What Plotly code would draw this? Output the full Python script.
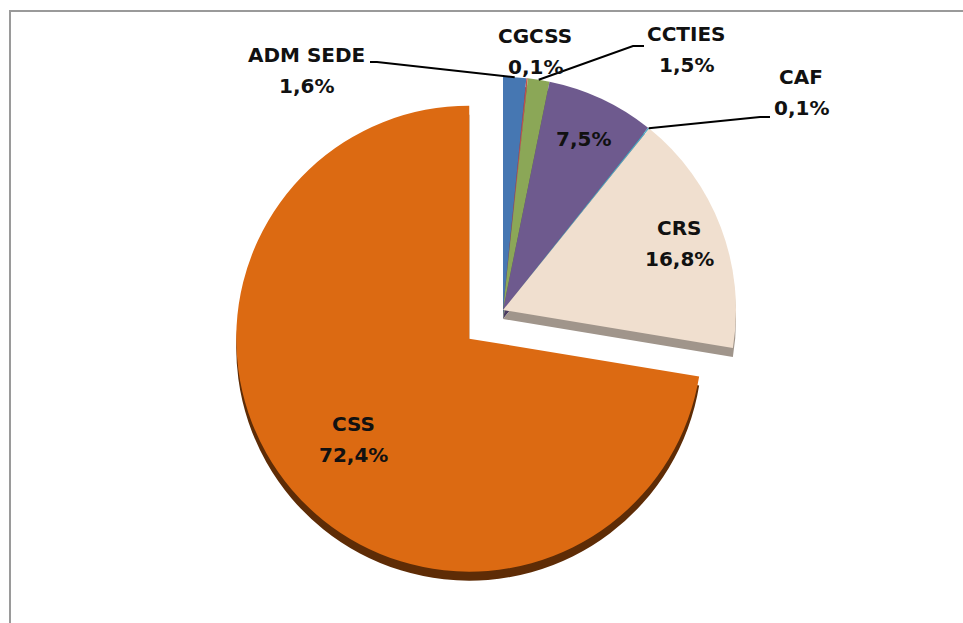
import math
import plotly.graph_objects as go

# ---------------- data ----------------
labels = ["ADM SEDE", "CGCSS", "CCTIES", "Outros", "CAF", "CRS", "CSS"]
values = [1.6, 0.1, 1.5, 7.5, 0.1, 16.8, 72.4]
shown_names = ["ADM SEDE", "CGCSS", "CCTIES", "", "CAF", "CRS", "CSS"]

# ---------------- styles ----------------
top_colors = ["#4677B2", "#C0504D", "#8BA757", "#6E5A8E", "#4BACC6", "#F0DFCF", "#DC6A12"]
side_colors = ["#2C4F7C", "#7F3330", "#5C7038", "#4A3C60", "#2F7285", "#A0958B", "#5E2C06"]
pulls = [0, 0, 0, 0, 0, 0, 0.19]

W, H = 963, 623
CX, CY, R = 503, 310, 233      # pie centre / radius in pixels
DEPTH = 9                       # thickness of the 3-D edge
PULL = max(pulls)
side = 2 * R * (1 + PULL)

def dom(cx, cy):
    return dict(x=[(cx - side / 2) / W, (cx + side / 2) / W],
                y=[1 - (cy + side / 2) / H, 1 - (cy - side / 2) / H])

FONT = dict(family="DejaVu Sans", size=20, color="#111111", weight=700)

fig = go.Figure()
fig.add_trace(go.Pie(labels=labels, values=values, sort=False, direction="clockwise",
                     rotation=0, pull=pulls, domain=dom(CX, CY + DEPTH),
                     marker=dict(colors=side_colors, line=dict(width=0)),
                     textinfo="none", hoverinfo="skip", showlegend=False))
fig.add_trace(go.Pie(labels=labels, values=values, sort=False, direction="clockwise",
                     rotation=0, pull=pulls, domain=dom(CX, CY),
                     marker=dict(colors=top_colors, line=dict(width=0)),
                     textinfo="none", showlegend=False))

# ---------------- labels ----------------
def pct(v):
    return f"{v:.1f}".replace(".", ",") + "%"

# label placement (pixel centres of name line and value line)
label_pos = {
    "ADM SEDE": ((306, 55), (306, 86)),
    "CGCSS": ((535, 36), (535, 67)),
    "CCTIES": ((686, 34), (686, 65)),
    "Outros": (None, (583, 139)),
    "CAF": ((801, 77), (801, 108)),
    "CRS": ((679, 228), (679, 259)),
    "CSS": ((353, 424), (353, 455)),
}

annotations = []
for lab, nm, v in zip(labels, shown_names, values):
    p_name, p_val = label_pos[lab]
    if nm and p_name:
        annotations.append(dict(x=p_name[0] / W, y=1 - p_name[1] / H, xref="paper", yref="paper",
                                text=nm, showarrow=False, font=FONT,
                                xanchor="center", yanchor="middle"))
    annotations.append(dict(x=p_val[0] / W, y=1 - p_val[1] / H, xref="paper", yref="paper",
                            text=pct(v), showarrow=False, font=FONT,
                            xanchor="center", yanchor="middle"))

# ---------------- leader lines (tips computed from the data) ----------------
total = sum(values)
cum = 0
mid_angle = {}
for lab, v in zip(labels, values):
    mid_angle[lab] = (cum + v / 2) / total * 360
    cum += v

def tip(lab):
    a = math.radians(mid_angle[lab])
    return CX + R * math.sin(a), CY - R * math.cos(a)

leaders = {
    "ADM SEDE": [(377, 62), (370, 62)],
    "CCTIES": [(633, 46), (644, 46)],
    "CAF": [(760, 117), (770, 117)],
}

def P(x, y):
    return f"{x / W:.5f},{1 - y / H:.5f}"

shapes = []
for lab, pts in leaders.items():
    tx, ty = tip(lab)
    path = "M " + P(tx, ty) + "".join(" L " + P(x, y) for x, y in pts)
    shapes.append(dict(type="path", path=path, xref="paper", yref="paper",
                       line=dict(color="#000000", width=2)))

# chart frame
shapes.append(dict(type="line", xref="paper", yref="paper",
                   x0=9 / W, x1=1, y0=1 - 11 / H, y1=1 - 11 / H,
                   line=dict(color="#9A9A9A", width=2)))
shapes.append(dict(type="line", xref="paper", yref="paper",
                   x0=10 / W, x1=10 / W, y0=0, y1=1 - 10 / H,
                   line=dict(color="#9A9A9A", width=2)))

fig.update_layout(width=W, height=H, margin=dict(l=0, r=0, t=0, b=0),
                  paper_bgcolor="white", plot_bgcolor="white",
                  annotations=annotations, shapes=shapes, showlegend=False)

fig.write_html("out.html", config={"displayModeBar": False},
               post_script="document.body.style.margin='0';document.body.style.overflow='hidden';")
